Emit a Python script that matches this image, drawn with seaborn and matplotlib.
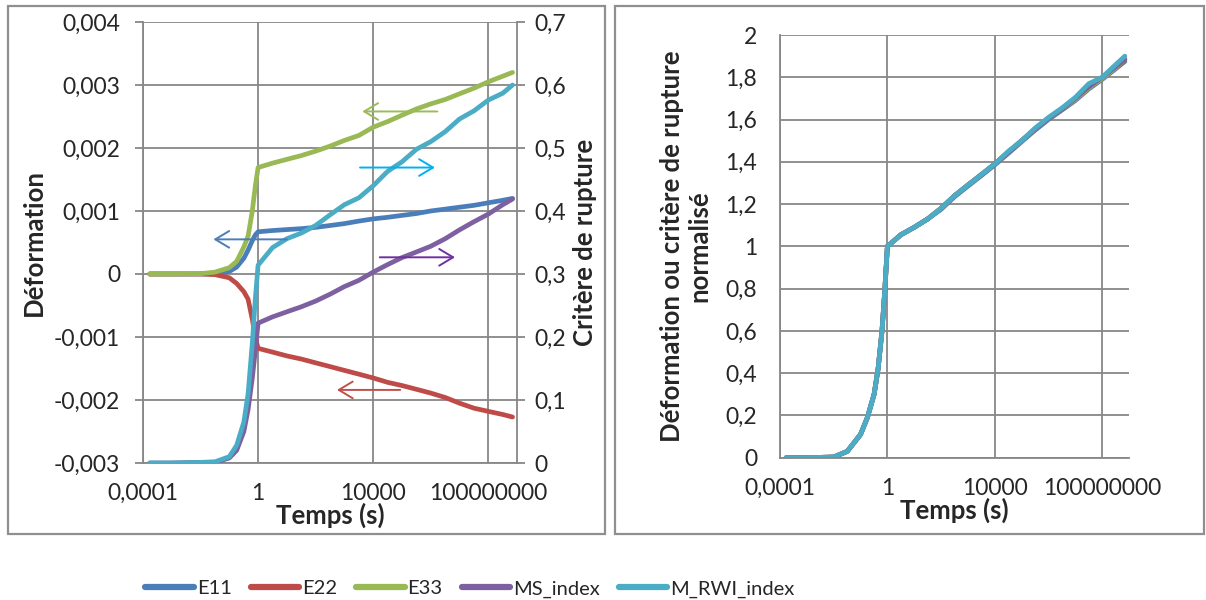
import pandas as pd
import matplotlib
matplotlib.use('Agg')
import matplotlib.pyplot as plt
import seaborn as sns
from matplotlib.lines import Line2D
from matplotlib.patches import Rectangle

# Data (time in s, log axis)
time_s = [1.7e-4, 1e-3, 1e-2, 3.2e-2, 0.1, 0.18, 0.32, 0.45, 0.63, 0.8, 1,
          3.2, 10, 32, 100, 320, 1e3, 3.2e3, 1e4, 3.2e4, 1e5, 3.2e5, 1e6,
          3.2e6, 1e7, 3.2e7, 1e8, 3.2e8, 7e8]

# strains (left axis)
e11 = [0, 0, 0, 0.000005, 0.00004, 0.00011, 0.00025, 0.00038, 0.00053, 0.00062, 0.00067,
       0.00069, 0.000705, 0.00072, 0.00074, 0.00077, 0.0008, 0.00084, 0.000875, 0.0009,
       0.00093, 0.00096, 0.001, 0.00103, 0.00106, 0.00109, 0.00113, 0.00117, 0.0012]
e22 = [0, 0, 0, -0.00001, -0.00006, -0.00015, -0.00028, -0.0004, -0.00072, -0.001, -0.00118,
       -0.00124, -0.0013, -0.00135, -0.00141, -0.00147, -0.00153, -0.00159, -0.00165, -0.00172,
       -0.00177, -0.00183, -0.00189, -0.00196, -0.00205, -0.00213, -0.00218, -0.00223, -0.00227]
e33 = [0, 0, 0.000005, 0.00003, 0.0001, 0.0002, 0.00043, 0.0006, 0.001, 0.00139, 0.00169,
       0.00176, 0.00182, 0.00188, 0.00195, 0.00203, 0.00212, 0.0022, 0.00233, 0.00242,
       0.00252, 0.00262, 0.0027, 0.00277, 0.00286, 0.00295, 0.00305, 0.00314, 0.0032]

# failure criteria (right axis)
ms_index = [0, 0, 0.001, 0.001, 0.008, 0.02, 0.05, 0.085, 0.135, 0.178, 0.222,
            0.232, 0.24, 0.248, 0.257, 0.268, 0.28, 0.29, 0.303, 0.315,
            0.326, 0.335, 0.344, 0.356, 0.37, 0.383, 0.395, 0.41, 0.419]
rwi_index = [0, 0, 0.001, 0.002, 0.01, 0.028, 0.065, 0.11, 0.19, 0.26, 0.314,
             0.342, 0.356, 0.365, 0.377, 0.394, 0.41, 0.421, 0.44, 0.463,
             0.478, 0.498, 0.51, 0.526, 0.546, 0.559, 0.576, 0.587, 0.6]

# normalised curves (right panel)
n_e11 = [0, 0, 0.003, 0.03, 0.11, 0.19, 0.3, 0.42, 0.6, 0.79, 1.0,
         1.055, 1.09, 1.13, 1.175, 1.235, 1.285, 1.335, 1.385, 1.44,
         1.495, 1.55, 1.6, 1.645, 1.69, 1.745, 1.79, 1.84, 1.875]
n_e22 = [0, 0, 0.003, 0.03, 0.11, 0.19, 0.3, 0.42, 0.6, 0.79, 1.0,
         1.055, 1.09, 1.13, 1.18, 1.24, 1.29, 1.34, 1.39, 1.445,
         1.5, 1.555, 1.605, 1.65, 1.695, 1.75, 1.795, 1.845, 1.88]
n_e33 = [0, 0, 0.003, 0.03, 0.11, 0.19, 0.3, 0.42, 0.6, 0.79, 1.0,
         1.055, 1.09, 1.13, 1.18, 1.24, 1.29, 1.34, 1.39, 1.445,
         1.5, 1.555, 1.605, 1.65, 1.695, 1.75, 1.795, 1.845, 1.885]
n_ms = [0, 0, 0.003, 0.03, 0.11, 0.19, 0.3, 0.42, 0.6, 0.79, 1.0,
        1.055, 1.09, 1.13, 1.18, 1.24, 1.29, 1.34, 1.39, 1.445,
        1.5, 1.555, 1.605, 1.65, 1.7, 1.755, 1.8, 1.85, 1.885]
n_rwi = [0, 0, 0.003, 0.03, 0.11, 0.19, 0.3, 0.42, 0.6, 0.79, 1.0,
         1.055, 1.09, 1.13, 1.18, 1.24, 1.29, 1.34, 1.39, 1.45,
         1.5, 1.56, 1.61, 1.655, 1.705, 1.77, 1.8, 1.86, 1.9]

names = ['E11', 'E22', 'E33', 'MS_index', 'M_RWI_index']
colors = {'E11': '#4A7EBB', 'E22': '#BE4B48', 'E33': '#98B954',
          'MS_index': '#7D60A0', 'M_RWI_index': '#4BACC6'}

x_ticks = [1e-4, 1, 1e4, 1e8]
x_ticklabels = ['0,0001', '1', '10000', '100000000']

GRID = '#878787'
TICK_FS = 16.5
LAB_FS = 18.5


def comma(v, nd):
    s = f'{v:.{nd}f}'.rstrip('0').rstrip('.') if v != 0 else '0'
    return s.replace('.', ',')


sns.set_style('white')
plt.rcParams['font.family'] = ['Lato', 'DejaVu Sans']

fig = plt.figure(figsize=(12.06, 6), dpi=100)

# panel frames
fig.add_artist(Rectangle((8 / 1206, 1 - 534 / 600), 597 / 1206, 528 / 600,
                         transform=fig.transFigure, fill=False, ec='#8F8F8F', lw=1.6))
fig.add_artist(Rectangle((615 / 1206, 1 - 534 / 600), 589 / 1206, 528 / 600,
                         transform=fig.transFigure, fill=False, ec='#8F8F8F', lw=1.6))

# ---- left panel ----
ax = fig.add_axes([143 / 1206, 1 - 463 / 600, 374 / 1206, 441 / 600])
ax2 = ax.twinx()

n = len(time_s)
left_df = pd.DataFrame({'t': time_s * 3, 'val': e11 + e22 + e33,
                        'serie': ['E11'] * n + ['E22'] * n + ['E33'] * n})
right_df = pd.DataFrame({'t': time_s * 2, 'val': ms_index + rwi_index,
                         'serie': ['MS_index'] * n + ['M_RWI_index'] * n})

sns.lineplot(data=left_df, x='t', y='val', hue='serie', palette=colors, lw=3.4,
             estimator=None, sort=False, legend=False, ax=ax)
sns.lineplot(data=right_df, x='t', y='val', hue='serie', palette=colors, lw=3.4,
             estimator=None, sort=False, legend=False, ax=ax2)

for a in (ax, ax2):
    a.set_xscale('log')
    a.set_xlim(1e-4, 1e9)
    a.set_xticks(x_ticks)
    a.set_xticklabels(x_ticklabels)
    a.xaxis.set_minor_locator(plt.NullLocator())
    a.tick_params(direction='out', length=5.5, width=1.3, color=GRID, labelsize=TICK_FS)
    a.tick_params(axis='x', pad=9)
    for s in a.spines.values():
        s.set_visible(False)
ax.tick_params(axis='y', pad=11)
ax2.tick_params(axis='y', pad=7)

ax.set_ylim(-0.003, 0.004)
yl = [-0.003 + 0.001 * i for i in range(8)]
ax.set_yticks(yl)
ax.set_yticklabels([comma(v, 3) for v in yl])
ax2.set_ylim(0, 0.7)
yr = [0.1 * i for i in range(8)]
ax2.set_yticks(yr)
ax2.set_yticklabels([comma(v, 1) for v in yr])

ax.grid(True, color=GRID, lw=1.3)
ax.set_axisbelow(True)
ax.spines['left'].set_visible(True)
ax.spines['bottom'].set_visible(True)
ax2.spines['right'].set_visible(True)
for s in (ax.spines['left'], ax.spines['bottom'], ax2.spines['right']):
    s.set_color(GRID)
    s.set_linewidth(1.3)

ax.set_ylabel('Déformation', fontsize=LAB_FS, fontweight='bold', labelpad=6)
ax2.set_ylabel('Critère de rupture', fontsize=LAB_FS, fontweight='bold', labelpad=5)
ax.set_xlabel('Temps (s)', fontsize=LAB_FS, fontweight='bold', labelpad=-1)
ax2.set_xlabel('')

# direction arrows (in right-axis coordinates)
arrows = [
    (1.7e6, 4.2e3, 0.558, '#9BBB59'),
    (3.5e3, 1.4e6, 0.469, '#00B0F0'),
    (10, 0.028, 0.355, '#4A7EBB'),
    (1.7e4, 7e6, 0.3265, '#7030A0'),
    (8.7e4, 550, 0.116, '#C0504D'),
]
for x0, x1, yv, c in arrows:
    ax2.annotate('', xy=(x1, yv), xytext=(x0, yv),
                 arrowprops=dict(arrowstyle='->,head_length=1.0,head_width=0.6',
                                 color=c, lw=1.4, shrinkA=0, shrinkB=0))

# ---- right panel ----
axn = fig.add_axes([780 / 1206, 1 - 457.7 / 600, 349 / 1206, 422.7 / 600])
norm_df = pd.DataFrame({'t': time_s * 5,
                        'val': n_e11 + n_e22 + n_e33 + n_ms + n_rwi,
                        'serie': sum([[k] * n for k in names], [])})
sns.lineplot(data=norm_df, x='t', y='val', hue='serie', palette=colors, lw=3.4,
             estimator=None, sort=False, legend=False, ax=axn)
axn.set_xscale('log')
axn.set_xlim(1e-4, 1e9)
axn.set_xticks(x_ticks)
axn.set_xticklabels(x_ticklabels)
axn.xaxis.set_minor_locator(plt.NullLocator())
axn.set_ylim(0, 2)
yn = [0.2 * i for i in range(11)]
axn.set_yticks(yn)
axn.set_yticklabels([comma(v, 1) for v in yn])
axn.tick_params(direction='out', length=5.5, width=1.3, color=GRID, labelsize=TICK_FS)
axn.tick_params(axis='x', pad=9)
axn.tick_params(axis='y', pad=11)
axn.grid(True, color=GRID, lw=1.3)
axn.set_axisbelow(True)
for k, s in axn.spines.items():
    s.set_visible(k in ('left', 'bottom'))
    s.set_color(GRID)
    s.set_linewidth(1.3)
axn.set_ylabel('Déformation ou critère de rupture\nnormalisé', fontsize=LAB_FS,
               fontweight='bold', labelpad=10, linespacing=1.15)
axn.set_xlabel('Temps (s)', fontsize=LAB_FS, fontweight='bold', labelpad=-1)

# legend
handles = [Line2D([], [], color=colors[k], lw=4.5, solid_capstyle='round') for k in names]
fig.legend(handles, names, loc='center', bbox_to_anchor=(470 / 1206, 1 - 589 / 600),
           ncol=5, frameon=False, fontsize=14.5, handlelength=2.4, handletextpad=0.15,
           columnspacing=0.95)

fig.savefig('out.png', dpi=100)
